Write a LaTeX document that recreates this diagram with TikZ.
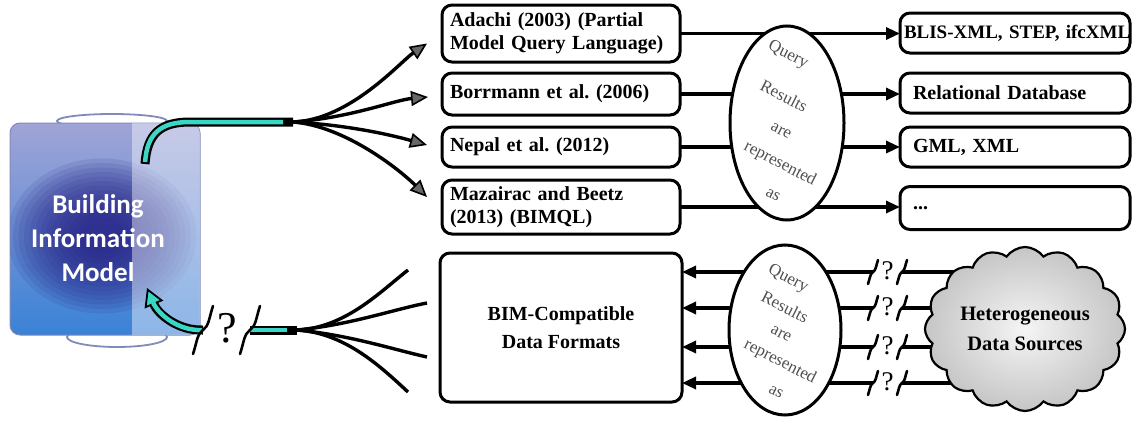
\documentclass[tikz,border=0pt]{standalone}
\usepackage{fontspec}
\setmainfont{Liberation Serif}
\newfontfamily\bimfont{Carlito}
\usetikzlibrary{arrows.meta,shapes.geometric,shapes.symbols,calc}
\frenchspacing

\definecolor{stemcyan}{RGB}{58,214,198}
\definecolor{bimtop}{RGB}{160,164,214}
\definecolor{bimmid}{RGB}{78,76,178}
\definecolor{bimbot}{RGB}{58,130,214}
\definecolor{bimglow}{RGB}{36,30,132}
\definecolor{capcol}{RGB}{130,138,185}
\definecolor{elltext}{RGB}{80,80,80}

\tikzset{
  refbox/.style={draw, line width=3pt, rounded corners=10pt, fill=white,
    inner ysep=0pt, outer sep=0pt, align=left,
    font=\fontsize{20}{23}\selectfont\bfseries},
  litbox/.style={refbox, text width=222pt, inner xsep=8pt},
  fmtbox/.style={refbox, text width=204pt, inner xsep=13pt, minimum height=40pt},
  qell/.style={ellipse, draw, line width=3pt, fill=white, inner sep=0pt},
  qtext/.style={rotate=-27, text=elltext, font=\fontsize{17}{17}\selectfont, inner sep=0pt},
  linkarrow/.style={line width=3.2pt, -{Triangle[length=14pt,width=12pt]}},
  fanarrow/.style={line width=3.4pt, -{Triangle[length=17pt,width=15pt,fill=black!60,line width=1.6pt]}},
  fanline/.style={line width=3.4pt},
  stemout/.style={line width=9pt, black},
  stemin/.style={line width=4.5pt, stemcyan},
  qmark/.style={font=\fontsize{27}{27}\selectfont, inner sep=0pt},
  brk/.pic={\draw[line width=2.6pt, line cap=round]
      (-5,12) .. controls (-3,6) and (-3,2) .. (0,0)
      .. controls (3,-2) and (3,-6) .. (5,-12);},
  bimpanel/.style={rounded corners=10pt, draw=capcol, line width=1pt,
    minimum width=190pt, minimum height=212pt, outer sep=0pt,
    top color=bimtop, middle color=bimmid, bottom color=bimbot},
  bimtext/.style={text=white, align=center,
    font=\bimfont\fontsize{27}{34}\selectfont\bfseries},
  cloudbox/.style={cloud, cloud puffs=16, cloud puff arc=110, cloud ignores aspect,
    draw, line width=2.2pt, minimum width=200pt, minimum height=164pt,
    inner color=gray!8, outer color=gray!45, align=center,
    font=\fontsize{20.5}{30}\selectfont\bfseries}
}

\begin{document}
\begin{tikzpicture}[x=1pt,y=-1pt]
\useasboundingbox (0,0) rectangle (1136,423);

% ---------- Building Information Model panel ----------
\draw[capcol, line width=1.8pt] (112,121) ellipse [x radius=55pt, y radius=7pt];
\draw[capcol, line width=1.8pt] (117,337) ellipse [x radius=50pt, y radius=10pt];
\node[bimpanel] (bim) at (105,229) {};
\begin{scope}
  \clip[rounded corners=10pt] (bim.south west) rectangle (bim.north east);
  % soft dark glow built from stacked translucent ellipses
  \foreach \k in {1,...,14} {
    \fill[bimglow, opacity=0.11]
      (102,236) ellipse [x radius={100pt-5.5pt*\k}, y radius={82pt-4.5pt*\k}];
  }
  \fill[white, opacity=0.42] (132,100) rectangle (210,360);
\end{scope}
\node[bimtext] (bimlabel) at (98,238) {Building\\Information\\Model};

% ---------- query languages ----------
\node[litbox, minimum height=57pt] (u1) at (561,33.5) {\mbox{Adachi (2003) (Partial}\\\mbox{Model Query Language)}};
\node[litbox, minimum height=42pt] (u2) at (561,94) {Borrmann et al. (2006)};
\node[litbox, minimum height=40pt] (u3) at (561,147) {Nepal et al. (2012)};
\node[litbox, minimum height=54pt] (u4) at (561,207) {Mazairac and Beetz\\(2013) (BIMQL)};

% ---------- result formats ----------
\node[fmtbox, inner xsep=4pt, text width=222pt, font=\fontsize{19}{20}\selectfont\bfseries] (r1) at (1015,33) {\mbox{BLIS-XML, STEP, ifcXML}};
\node[fmtbox] (r2) at (1015,93) {Relational Database};
\node[fmtbox] (r3) at (1015,147) {GML, XML};
\node[fmtbox, minimum height=43pt] (r4) at (1015,208) {...};

\draw[linkarrow] (u1.east) -- (u1.east -| r1.west);
\draw[linkarrow] (u2.east) -- (u2.east -| r2.west);
\draw[linkarrow] (u3.east) -- (u3.east -| r3.west);
\draw[linkarrow] (u4.east) -- (u4.east -| r4.west);

\node[qell, minimum width=114pt, minimum height=194pt] (qe1) at (787,123) {};
\node[qtext] (qe1a) at (788,55) {Query};
\node[qtext] (qe1b) at (784,96) {Results};
\node[qtext] (qe1c) at (781,131) {are};
\node[qtext] (qe1d) at (780,164) {represented};
\node[qtext] (qe1e) at (773,195) {as};

% ---------- outgoing fan ----------
\coordinate (bimOut) at (145,164);
\coordinate (hubU) at (293,122);
\draw[fanarrow] (hubU) .. controls (350,120) and (400,62) .. ($(u1.west)+(-15,10)$);
\draw[fanarrow] (hubU) .. controls (350,118) and (395,100) .. ($(u2.west)+(-14,3)$);
\draw[fanarrow] (hubU) .. controls (350,125) and (395,136) .. ($(u3.west)+(-15,-2)$);
\draw[fanarrow] (hubU) .. controls (345,126) and (400,170) .. ($(u4.west)+(-15,-10)$);
\draw[stemout] (bimOut) .. controls (147,134) and (160,122) .. (190,122) -- (hubU);
\draw[stemin, shorten <=2pt] (bimOut) .. controls (147,134) and (160,122) .. (190,122) -- ($(hubU)+(-10,0)$);

% ---------- BIM-compatible formats and data sources ----------
\node[refbox, align=center, minimum width=242pt, minimum height=149pt] (bx) at (561,327.5) {BIM-Compatible\\[5pt]Data Formats};

\coordinate (srcc) at (1025,329);
\foreach \i/\y in {1/272,2/308,3/347,4/383} {
  \coordinate (kl\i) at (873,\y);
  \coordinate (kr\i) at (902,\y);
}
\foreach \i in {1,2,3,4} {
  \draw[linkarrow] (kl\i) -- (kl\i -| bx.east);
  \draw[line width=3.2pt] (kr\i) -- (kr\i -| srcc);
}
\node[cloudbox] (src) at (srcc) {Heterogeneous\\Data Sources};

\node[qell, minimum width=112pt, minimum height=170pt] (qe2) at (785,330) {};
\node[qtext] (qe2a) at (788,279) {Query};
\node[qtext] (qe2b) at (785,307) {Results};
\node[qtext] (qe2c) at (781,334) {are};
\node[qtext] (qe2d) at (780,362) {represented};
\node[qtext] (qe2e) at (776,392) {as};

\foreach \i in {1,2,3,4} {
  \pic at (kl\i) {brk};
  \pic at (kr\i) {brk};
  \node[qmark] (qm\i) at ($(kl\i)!0.5!(kr\i)+(0,-1)$) {?};
}

% ---------- incoming fan ----------
\coordinate (hubL) at (297,330);
\coordinate (fl1) at (408,270);
\coordinate (fl2) at (427,303);
\coordinate (fl3) at (427,357);
\coordinate (fl4) at (408,392);
\draw[fanline] (hubL) .. controls (345,328) and (380,292) .. (fl1);
\draw[fanline] (hubL) .. controls (350,325) and (395,309) .. (fl2);
\draw[fanline] (hubL) .. controls (350,335) and (395,350) .. (fl3);
\draw[fanline] (hubL) .. controls (345,333) and (380,366) .. (fl4);

\coordinate (brkA) at (203,330);
\coordinate (brkB) at (250,330);
\coordinate (bimIn) at (147,288);
\draw[stemout] (brkB) -- (hubL);
\draw[stemin] (brkB) -- ($(hubL)+(-10,0)$);
\draw[stemout, -{Triangle[length=18pt,width=20pt,fill=stemcyan,line width=1.8pt]}]
  (brkA) .. controls (178,331) and (158,314) .. (bimIn);
\draw[stemin, shorten >=16pt, shorten <=1pt]
  (brkA) .. controls (178,331) and (158,314) .. (bimIn);
\pic[scale=2] at (brkA) {brk};
\pic[scale=2] at (brkB) {brk};
\node[qmark, font=\fontsize{44}{44}\selectfont] (qm0) at (227,328) {?};
\end{tikzpicture}
\end{document}
